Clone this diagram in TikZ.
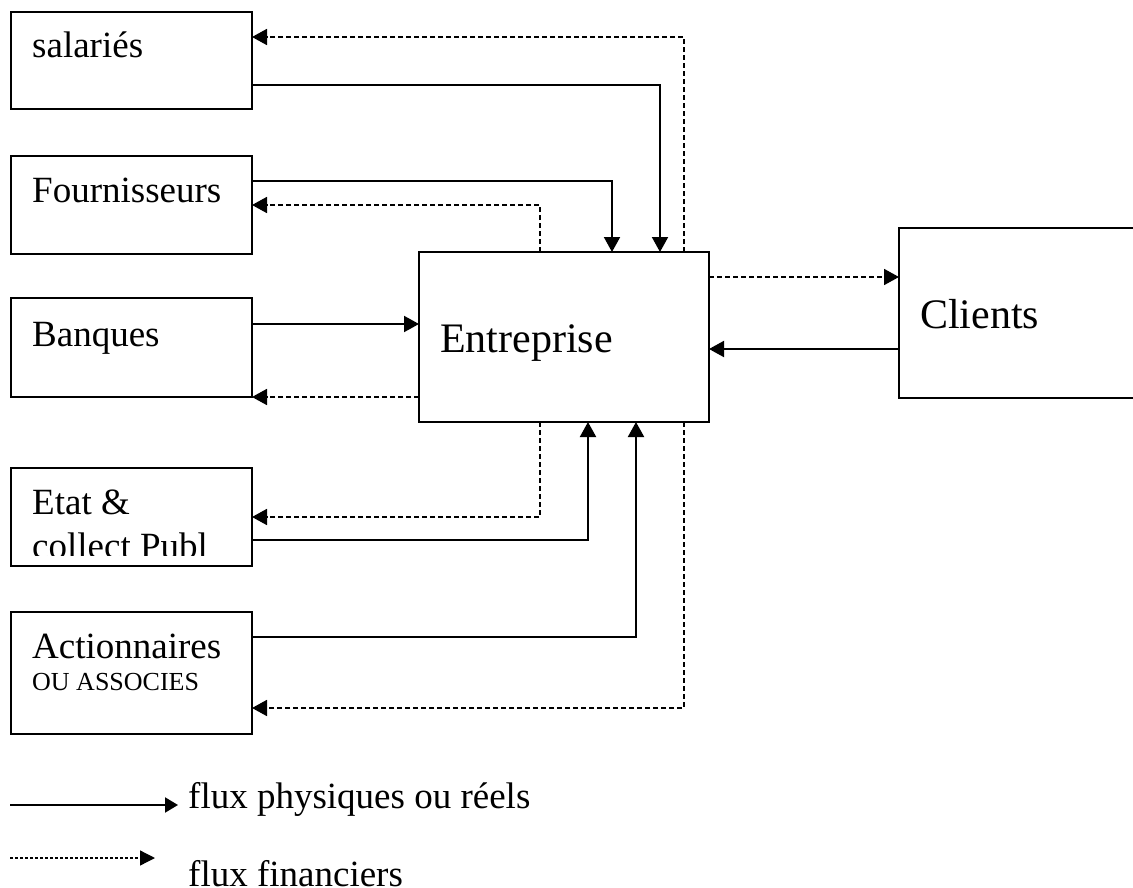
\documentclass[tikz,border=0pt]{standalone}
\usepackage{fontspec}
\setmainfont{Liberation Serif}
\usetikzlibrary{arrows.meta}
\tikzset{
  box/.style={draw, line width=2.3pt, inner sep=0pt, outer sep=0pt, minimum width=241pt},
  lbl/.style={anchor=base west, inner sep=0pt, font=\fontsize{37}{44}\selectfont},
  big/.style={anchor=base west, inner sep=0pt, font=\fontsize{42}{48}\selectfont},
  small/.style={anchor=base west, inner sep=0pt, font=\fontsize{26}{30}\selectfont},
  phys/.style={line width=2pt, -{Triangle[length=15pt,width=16pt]}},
  fin/.style={line width=1.8pt, dash pattern=on 5pt off 3pt, -{Triangle[length=15pt,width=16pt]}},
  legphys/.style={line width=2pt, -{Triangle[length=13pt,width=15pt]}},
  legfin/.style={line width=1.3pt, dash pattern=on 3pt off 2pt, -{Triangle[length=15pt,width=15pt]}},
}
\begin{document}
\begin{tikzpicture}[x=1pt,y=-1pt]
\useasboundingbox (0,0) rectangle (1133,888);
% boxes
\node[box, minimum height=97pt]  (sal)  at (131.5,60.5) {};
\node[box, minimum height=98pt]  (four) at (131.5,205) {};
\node[box, minimum height=99pt]  (banq) at (131.5,347.5) {};
\node[box, minimum height=98pt]  (etat) at (131.5,517) {};
\node[box, minimum height=122pt] (act)  at (131.5,673) {};
\node[box, minimum width=290pt, minimum height=170pt] (ent) at (564,337) {};
\node[box, minimum width=241pt, minimum height=170pt] (cli) at (1019.5,313) {};
% texts
\node[lbl] (tsal) at (32,58) {salariés};
\node[lbl] (tfour) at (32,203) {Fournisseurs};
\node[lbl] (tbanq) at (32,346) {Banques};
\node[lbl] (tetat) at (32,514) {Etat \&};
\begin{scope}
\clip (14,470) rectangle (250,555);
\node[lbl] (tetat2) at (32,558) {collect Publ};
\end{scope}
\node[lbl] (tact) at (32,658) {Actionnaires};
\node[small] (tact2) at (32,690) {OU ASSOCIES};
\node[big] (tent) at (440,352) {Entreprise};
\node[big] (tcli) at (920,328) {Clients};
% routing helpers
\coordinate (X540) at (540,0);
\coordinate (X588) at (588,0);
\coordinate (X612) at (612,0);
\coordinate (X636) at (636,0);
\coordinate (X660) at (660,0);
\coordinate (X684) at (684,0);
\coordinate (Y37) at (0,37);
\coordinate (Y85) at (0,85);
\coordinate (Y181) at (0,181);
\coordinate (Y205) at (0,205);
\coordinate (Y277) at (0,277);
\coordinate (Y324) at (0,324);
\coordinate (Y349) at (0,349);
\coordinate (Y397) at (0,397);
\coordinate (Y517) at (0,517);
\coordinate (Y540) at (0,540);
\coordinate (Y637) at (0,637);
\coordinate (Y708) at (0,708);
% connectors
\draw[fin]  (ent.north -| X684) |- (sal.east |- Y37);
\draw[phys] (sal.east |- Y85) -| (ent.north -| X660);
\draw[phys] (four.east |- Y181) -| (ent.north -| X612);
\draw[fin]  (ent.north -| X540) |- (four.east |- Y205);
\draw[phys] (banq.east |- Y324) -- (ent.west |- Y324);
\draw[fin]  (ent.west |- Y397) -- (banq.east |- Y397);
\draw[fin]  (ent.south -| X540) |- (etat.east |- Y517);
\draw[phys] (etat.east |- Y540) -| (ent.south -| X588);
\draw[phys] (act.east |- Y637) -| (ent.south -| X636);
\draw[fin]  (ent.south -| X684) |- (act.east |- Y708);
\draw[fin]  (ent.east |- Y277) -- (cli.west |- Y277);
\draw[phys] (cli.west |- Y349) -- (ent.east |- Y349);
% legend
\coordinate (L1a) at (10,805);
\coordinate (L1b) at (178,805);
\coordinate (L2a) at (10,858);
\coordinate (L2b) at (155,858);
\draw[legphys] (L1a) -- (L1b);
\draw[legfin] (L2a) -- (L2b);
\node[lbl] (leg1) at (188,808) {flux physiques ou réels};
\node[lbl] (leg2) at (188,886) {flux financiers};
\end{tikzpicture}
\end{document}
